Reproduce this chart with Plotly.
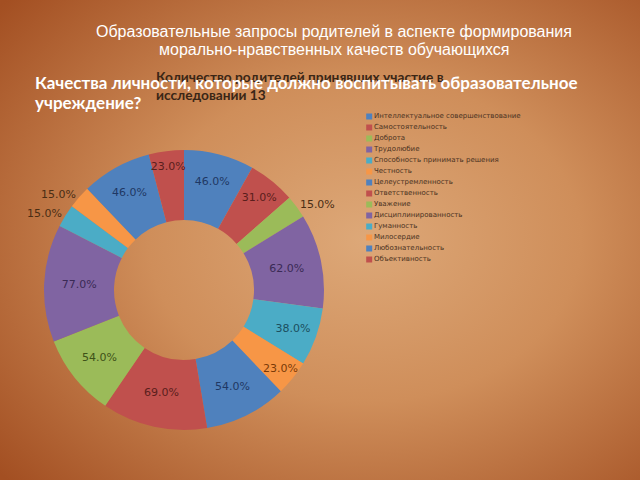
import base64
import plotly.graph_objects as go

categories = [
    "Интеллектуальное совершенствование",
    "Самостоятельность",
    "Доброта",
    "Трудолюбие",
    "Способность принимать решения",
    "Честность",
    "Целеустремленность",
    "Ответственность",
    "Уважение",
    "Дисциплинированность",
    "Гуманность",
    "Милосердие",
    "Любознательность",
    "Объективность",
]
values = [46, 31, 15, 62, 38, 23, 54, 69, 54, 77, 15, 15, 46, 23]

palette = ["#4F81BD", "#C0504D", "#9BBB59", "#8064A2", "#4BACC6", "#F79646"]
dark_palette = ["#1F3864", "#5A1E1C", "#3E5218", "#3A2A55", "#1C4F5E", "#7A3A08"]
colors = [palette[i % 6] for i in range(len(values))]
text_colors = [dark_palette[i % 6] for i in range(len(values))]
positions = ["outside" if v <= 15 else "inside" for v in values]

title_lines = ["Образовательные запросы родителей в аспекте формирования",
               "морально-нравственных качеств обучающихся"]
subtitle_lines = ["Количество родителей принявших участие в",
                  "исследовании 13"]
question_lines = ["Качества личности, которые должно воспитывать образовательное",
                  "учреждение?"]

W, H = 640, 480

svg = f'''<svg xmlns="http://www.w3.org/2000/svg" width="{W}" height="{H}">
<defs><radialGradient id="g" cx="0.57" cy="0.5" r="0.75">
<stop offset="0" stop-color="#DDA878"/>
<stop offset="0.45" stop-color="#CF8E5A"/>
<stop offset="1" stop-color="#A34F22"/>
</radialGradient></defs>
<rect width="{W}" height="{H}" fill="url(#g)"/></svg>'''
bg_src = "data:image/svg+xml;base64," + base64.b64encode(svg.encode()).decode()

fig = go.Figure()

fig.add_trace(go.Pie(
    labels=categories,
    values=values,
    sort=False,
    direction="clockwise",
    rotation=0,
    hole=0.5,
    marker=dict(colors=colors, line=dict(width=0)),
    texttemplate="%{value:.1f}%",
    textposition=positions,
    insidetextfont=dict(family="DejaVu Sans", size=11, color=text_colors),
    outsidetextfont=dict(family="DejaVu Sans", size=11, color="#4A2D14"),
    insidetextorientation="horizontal",
    domain=dict(x=[44 / W, 324 / W], y=[1 - 430 / H, 1 - 150 / H]),
    showlegend=False,
    hoverinfo="label+value",
))

# custom compact legend
fig.add_trace(go.Scatter(
    x=[0.0] * len(categories),
    y=list(range(len(categories))),
    mode="markers+text",
    marker=dict(symbol="square", size=6, color=colors),
    text=categories,
    textposition="middle right",
    textfont=dict(family="DejaVu Sans", size=7, color="#4A3222"),
    xaxis="x", yaxis="y",
    showlegend=False,
    hoverinfo="skip",
    cliponaxis=False,
))

annotations = []
for i, line in enumerate(title_lines):
    annotations.append(dict(
        text=line, xref="paper", yref="paper", x=334 / W, y=1 - (32 + 18 * i) / H,
        xanchor="center", yanchor="middle", showarrow=False,
        font=dict(family="Liberation Sans", size=16, color="white")))
for i, line in enumerate(subtitle_lines):
    annotations.append(dict(
        text=line, xref="paper", yref="paper", x=154 / W, y=1 - (76 + 19 * i) / H,
        xanchor="left", yanchor="middle", showarrow=False,
        font=dict(family="Lato", size=13.7, color="#3A2616", weight="bold")))
for i, line in enumerate(question_lines):
    annotations.append(dict(
        text=line, xref="paper", yref="paper", x=33 / W, y=1 - (83 + 19 * i) / H,
        xanchor="left", yanchor="middle", showarrow=False,
        font=dict(family="Lato", size=17, color="white", weight="bold")))

fig.update_layout(
    width=W, height=H,
    margin=dict(l=0, r=0, t=0, b=0),
    paper_bgcolor="#C27A45",
    plot_bgcolor="rgba(0,0,0,0)",
    uniformtext=dict(minsize=11, mode="show"),
    images=[dict(source=bg_src, xref="paper", yref="paper", x=0, y=1,
                 sizex=1, sizey=1, sizing="stretch", layer="below")],
    xaxis=dict(domain=[368 / W, 0.95], range=[-0.005, 1], visible=False, fixedrange=True),
    yaxis=dict(domain=[1 - 265 / H, 1 - 111 / H], range=[13.5, -0.5], visible=False, fixedrange=True),
    annotations=annotations,
)

fig.write_html("out.html")
